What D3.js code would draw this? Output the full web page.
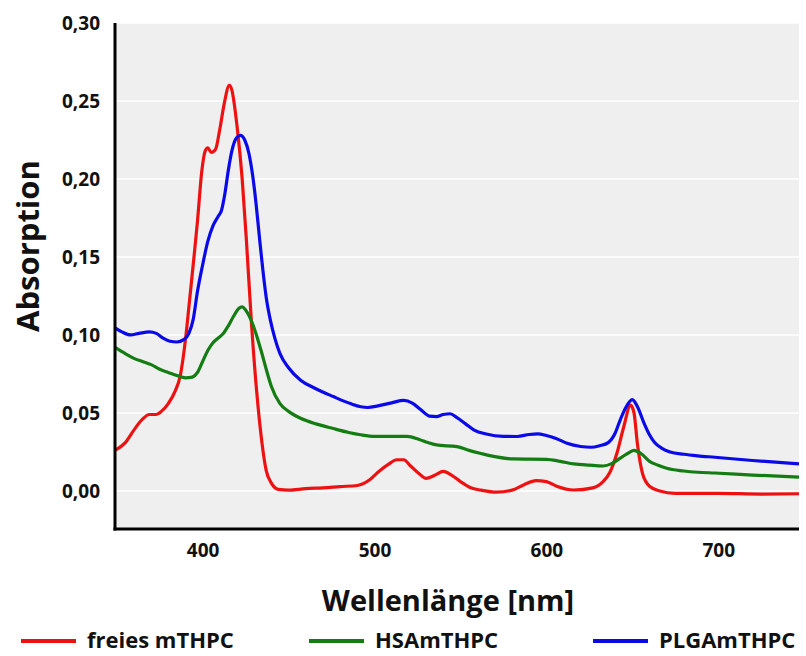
<!DOCTYPE html>
<html><head><meta charset="utf-8">
<script src="https://cdn.jsdelivr.net/npm/d3@7"></script>
<style>body{margin:0;background:#fff}svg{display:block}</style>
</head><body>
<svg id="c" width="806" height="656"></svg>
<script>
const seriesNames = ["freies mTHPC", "HSAmTHPC", "PLGAmTHPC"];
const seriesColors = ["#ee1111", "#137d13", "#0a0ae8"];
const yTicks = [0, 0.05, 0.10, 0.15, 0.20, 0.25, 0.30];
const xTicks = [400, 500, 600, 700];

const redWl = [349,355,360,365,369,373,376,380,384,387,390,392,394.5,397,399.5,401.5,403,405,407.5,410,412.5,415.5,417,420,423,425.5,428.5,431.5,434.5,437,440,444,450,460,470,480,490,497,502,508,513,517,521,526,530,535,540,545,550,556,562,571,580,587,594,600,606,616,627,633,637,641,645,649,651,653,656,660,666,675,700,725,747];
const redAbs = [0.026,0.031,0.039,0.046,0.049,0.049,0.051,0.056,0.064,0.074,0.097,0.118,0.145,0.173,0.205,0.218,0.220,0.217,0.219,0.232,0.248,0.260,0.257,0.234,0.200,0.160,0.106,0.063,0.031,0.013,0.005,0.001,0.0005,0.0015,0.002,0.0028,0.0035,0.007,0.012,0.017,0.020,0.020,0.016,0.011,0.008,0.010,0.0125,0.010,0.006,0.002,0.0005,-0.0008,0.0005,0.004,0.0066,0.006,0.003,0.0006,0.002,0.006,0.012,0.024,0.041,0.055,0.050,0.030,0.011,0.003,0.000,-0.0015,-0.0015,-0.002,-0.0018];

const greenWl = [349,355,360,365,370,375,380,385,390,394,397,400,403,406,409,412,415,418,421,423,425,428,431,434,437,440,445,450,457,466,476,485,492,500,510,519,526,531,536,548,555,562,570,581,600,608,616,625,633,638,643,648,651,655,660,665,670,680,688,698,720,747];
const greenAbs = [0.092,0.088,0.085,0.083,0.081,0.078,0.076,0.074,0.0725,0.073,0.076,0.083,0.090,0.095,0.098,0.101,0.106,0.112,0.117,0.118,0.116,0.110,0.101,0.090,0.078,0.067,0.056,0.051,0.0466,0.043,0.040,0.0375,0.036,0.035,0.035,0.035,0.033,0.031,0.0295,0.0284,0.026,0.024,0.022,0.0205,0.0203,0.019,0.0173,0.0165,0.016,0.0175,0.021,0.0245,0.026,0.024,0.019,0.0165,0.0145,0.0128,0.012,0.0115,0.0102,0.0088];

const blueWl = [349,353,358,363,369,373,377,381,385,389,392,394.5,397,400,403,406,409,411,413,415,417,419.5,422,424.5,427,429,431,433,435,437,439.5,442,445,450,457,465,476,486,492,496,502,510,517,522,527,532,536,540,544,548,553,558,565,575,583,590,595,600,606,612,620,626,631,636,640,643,646,650,653,657,660,663,667,672,680,688,698,720,747];
const blueAbs = [0.1046,0.102,0.100,0.101,0.102,0.101,0.098,0.096,0.0955,0.097,0.101,0.110,0.128,0.145,0.160,0.170,0.176,0.180,0.191,0.206,0.218,0.226,0.228,0.225,0.216,0.203,0.185,0.163,0.142,0.124,0.109,0.098,0.088,0.079,0.071,0.066,0.0605,0.056,0.054,0.0535,0.0545,0.0565,0.058,0.0563,0.052,0.048,0.0477,0.049,0.0495,0.047,0.043,0.039,0.0365,0.035,0.0349,0.0362,0.0366,0.0355,0.0335,0.0306,0.0285,0.028,0.029,0.031,0.037,0.0456,0.053,0.0585,0.054,0.043,0.036,0.031,0.0275,0.025,0.0235,0.0225,0.0216,0.0195,0.0173];

const series = [
  {name: seriesNames[0], color: seriesColors[0], pts: redWl.map((w,i)=>[w, redAbs[i]])},
  {name: seriesNames[1], color: seriesColors[1], pts: greenWl.map((w,i)=>[w, greenAbs[i]])},
  {name: seriesNames[2], color: seriesColors[2], pts: blueWl.map((w,i)=>[w, blueAbs[i]])}
];

const svg = d3.select("#c");
const L = 115, R = 799, T = 23, B = 529;
const x = d3.scaleLinear().domain([349, 747]).range([L, R]);
const y = d3.scaleLinear().domain([-0.0244, 0.30]).range([B, T]);
const font = "'Open Sans', 'Noto Sans', sans-serif";

svg.append("rect").attr("x", L).attr("y", T).attr("width", R - L).attr("height", B - T).attr("fill", "#efefef");

svg.append("g").selectAll("line").data(yTicks).join("line")
  .attr("x1", L).attr("x2", R).attr("y1", d => y(d)).attr("y2", d => y(d))
  .attr("stroke", "#ffffff").attr("stroke-width", 1.5);

const fmt = d => d3.format(".2f")(d).replace(".", ",");
const yAxis = svg.append("g").attr("transform", `translate(${L},0)`)
  .call(d3.axisLeft(y).tickValues(yTicks).tickFormat(fmt).tickSize(0).tickPadding(15));
yAxis.select(".domain").remove();
yAxis.selectAll("text").attr("font-family", font).attr("font-weight", 700).attr("font-size", 19).attr("fill", "#111");

const xAxis = svg.append("g").attr("transform", `translate(0,${B})`)
  .call(d3.axisBottom(x).tickValues(xTicks).tickFormat(d3.format("d")).tickSize(0).tickPadding(15));
xAxis.select(".domain").remove();
xAxis.selectAll("text").attr("font-family", font).attr("font-weight", 700).attr("font-size", 19).attr("fill", "#111");

const line = d3.line().x(d => x(d[0])).y(d => y(d[1])).curve(d3.curveMonotoneX);
svg.append("g").selectAll("path").data(series).join("path")
  .attr("d", d => line(d.pts)).attr("fill", "none")
  .attr("stroke", d => d.color).attr("stroke-width", 3.2).attr("stroke-linejoin", "round");

// axes lines
svg.append("line").attr("x1", L).attr("x2", L).attr("y1", T).attr("y2", B + 1.5).attr("stroke", "#000").attr("stroke-width", 3);
svg.append("line").attr("x1", L - 1.5).attr("x2", R).attr("y1", B).attr("y2", B).attr("stroke", "#000").attr("stroke-width", 3);

svg.append("text").attr("transform", `translate(39,246) rotate(-90)`).attr("text-anchor", "middle")
  .attr("font-family", font).attr("font-weight", 700).attr("font-size", 31).attr("fill", "#111").text("Absorption");
svg.append("text").attr("x", 448).attr("y", 611).attr("text-anchor", "middle")
  .attr("font-family", font).attr("font-weight", 700).attr("font-size", 29).attr("fill", "#111").text("Wellenlänge [nm]");

const legX = [21, 309, 593];
const leg = svg.append("g").selectAll("g").data(series).join("g")
  .attr("transform", (d, i) => `translate(${legX[i]},641)`);
leg.append("line").attr("x1", 0).attr("x2", 55).attr("stroke", d => d.color).attr("stroke-width", 4);
leg.append("text").attr("x", 66).attr("y", 7).attr("font-family", font).attr("font-weight", 700)
  .attr("font-size", 22).attr("fill", "#111").text(d => d.name);
</script>
</body></html>
